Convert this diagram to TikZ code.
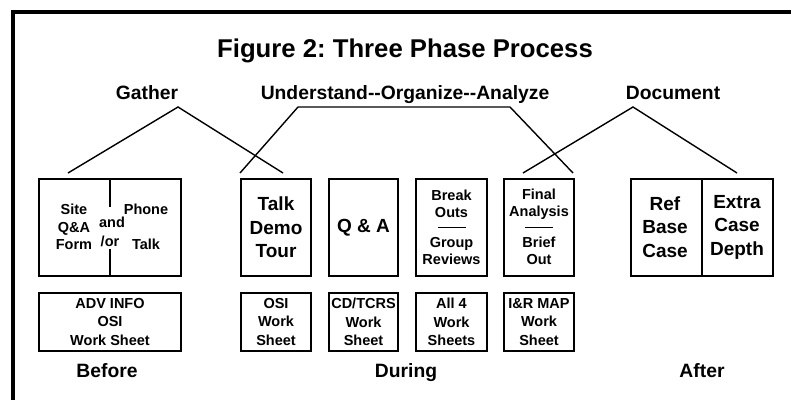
\documentclass[tikz,border=0pt]{standalone}
\usepackage{fontspec}
\setmainfont{Liberation Sans}
\begin{document}
\begin{tikzpicture}[x=1pt,y=-1pt,
  box/.style={draw, line width=1.4pt, inner sep=0pt, minimum height=97pt},
  sheet/.style={draw, line width=1.4pt, inner sep=0pt, minimum height=58pt, align=center,
    font=\bfseries\fontsize{14.5}{18.5}\selectfont},
  small/.style={align=center, inner sep=0pt, font=\bfseries\fontsize{14.5}{17.5}\selectfont},
  big/.style={align=center, inner sep=0pt, font=\bfseries\fontsize{19}{23.5}\selectfont},
  phase/.style={inner sep=0pt, anchor=base, font=\bfseries\fontsize{19.3}{23}\selectfont},
  link/.style={line width=1.4pt},
  split/.style={line width=2.8pt}]
\useasboundingbox (0,0) rectangle (791,399);
\fill[white] (0,0) rectangle (791,399);
% frame
\draw[line width=4pt, line cap=rect] (795,12) -- (13,12) -- (13,403);

% title and phase names
\node[inner sep=0pt, anchor=base, font=\bfseries\fontsize{25.7}{30}\selectfont\frenchspacing] (title) at (405,57) {Figure 2: Three Phase Process};
\node[phase] (gather) at (147,99) {Gather};
\node[phase] (uoa) at (405,99) {Understand-\kern0pt-Organize-\kern0pt-Analyze};
\node[phase] (doc) at (673,99) {Document};

% top row
\node[box, minimum width=142pt] (b1) at (110,227.5) {};
\node[box, minimum width=70pt] (b2) at (276,227.5) {};
\node[box, minimum width=69pt] (b3) at (363.5,227.5) {};
\node[box, minimum width=71pt] (b4) at (451.5,227.5) {};
\node[box, minimum width=70pt] (b5) at (539,227.5) {};
\node[box, minimum width=142pt] (b6) at (702,227.5) {};

% split of the first box, open in the middle for "and/or"
\coordinate (s1) at (110,179);
\coordinate (s2) at (110,207);
\coordinate (s3) at (110,249);
\coordinate (s4) at (110,276);
\draw[split] (s1) -- (s2);
\draw[split] (s3) -- (s4);
\node[small] (site) at (74,227) {Site\\Q\&A\\Form};
\node[small] (phone) at (146,227) {Phone\\[17.5pt]Talk};
\node[small] (and) at (112,222) {and};
\node[small] (or) at (110,241) {/or};

\node[big] (talk) at (b2.center) {Talk\\Demo\\Tour};
\node[big] (qa) at (b3.center) {Q \& A};

\node[small] (brk) at (451.5,204) {Break\\Outs};
\node[small] (grp) at (451.5,251) {Group\\Reviews};
\draw[line width=1.4pt] ([xshift=-14pt]b4.center) -- ([xshift=14pt]b4.center);

\node[small] (fin) at (539,204) {Final\\Analysis};
\node[small] (brf) at (539,251) {Brief\\Out};
\draw[line width=1.4pt] ([xshift=-14pt]b5.center) -- ([xshift=14pt]b5.center);

\draw[split] (b6.north) -- (b6.south);
\node[big] (ref) at (665,227) {Ref\\Base\\Case};
\node[big] (extra) at (737,227) {Extra\\Case\\Depth};

% bottom row
\node[sheet, minimum width=142pt] (w1) at (110,322) {ADV INFO\\OSI\\Work Sheet};
\node[sheet, minimum width=70pt] (w2) at (276,322) {OSI\\Work\\Sheet};
\node[sheet, minimum width=69pt] (w3) at (363.5,322) {CD/TCRS\\Work\\Sheet};
\node[sheet, minimum width=71pt] (w4) at (451.5,322) {All 4\\Work\\Sheets};
\node[sheet, minimum width=70pt] (w5) at (539,322) {I\&R MAP\\Work\\Sheet};

\node[phase] (before) at (107,377) {Before};
\node[phase] (during) at (406,377) {During};
\node[phase] (after) at (702,377) {After};

% phase brackets
\coordinate (ga) at (178,107);
\coordinate (gl) at (68,173);
\coordinate (gr) at (283,173);
\draw[link] (gl) -- (ga) -- (gr);

\coordinate (ul) at (240,173);
\coordinate (ut) at (298,107);
\coordinate (uu) at (510,107);
\coordinate (ur) at (573,173);
\draw[link] (ul) -- (ut) -- (uu) -- (ur);

\coordinate (da) at (633,107);
\coordinate (dl) at (523,173);
\coordinate (dr) at (737,173);
\draw[link] (dl) -- (da) -- (dr);
\end{tikzpicture}
\end{document}
